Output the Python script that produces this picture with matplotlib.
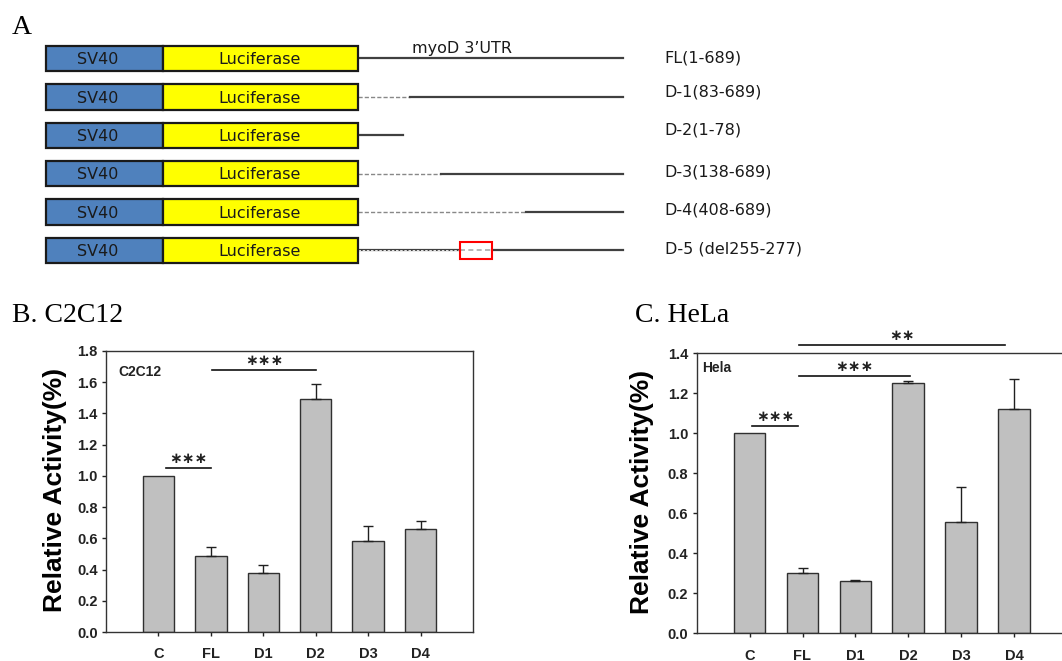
import numpy as np
import matplotlib.pyplot as plt
from matplotlib.patches import Rectangle

plt.rcParams['font.family'] = ['Liberation Sans', 'DejaVu Sans']

# ---- panel A: reporter constructs ----
construct_labels = ['FL(1-689)', 'D-1(83-689)', 'D-2(1-78)', 'D-3(138-689)',
                    'D-4(408-689)', 'D-5 (del255-277)']
# drawn 3'UTR extent in diagram units (0-689) (not to scale)
utr_solid_start = [0, 135, 0, 216, 437, 0]
utr_solid_end = [689, 689, 117, 689, 689, 689]
utr_len = 689
del_drawn = (265, 348)   # boxed deletion of D-5 as drawn

# ---- panels B / C ----
groups = ['C', 'FL', 'D1', 'D2', 'D3', 'D4']
c2c12_mean = [1.00, 0.49, 0.38, 1.49, 0.58, 0.66]
c2c12_err = [0.0, 0.057, 0.047, 0.096, 0.097, 0.053]
hela_mean = [1.00, 0.30, 0.26, 1.25, 0.555, 1.12]
hela_err = [0.0, 0.025, 0.006, 0.012, 0.175, 0.152]

# significance brackets: (from, to, height, stars)
c2c12_sig = [(0.14, 1.0, 1.049, 3), (1.02, 3.01, 1.678, 3)]
hela_sig = [(0.04, 0.92, 1.037, 3), (0.93, 3.03, 1.287, 3),
            (0.93, 4.83, 1.44, 2)]

W, H = 1062, 661
fig = plt.figure(figsize=(W / 100, H / 100), dpi=100)

# diagram axes: UTR spans px 358..623
k = 265 / utr_len
axA = fig.add_axes([0, 371 / H, 1, 290 / H])
axA.set_xlim(-358 / k, (W - 358) / k)
axA.set_ylim(6.029, -1.523)
axA.axis('off')

sv40_x = (-811, -507)
luc_x = (-507, 0)
bh = 0.664
line_c = '#404040'
label_dy = [0, -0.13, -0.15, -0.05, -0.05, -0.05]
for i, lab in enumerate(construct_labels):
    axA.add_patch(Rectangle((sv40_x[0], i - bh / 2), sv40_x[1] - sv40_x[0], bh,
                            facecolor='#4f81bd', edgecolor='#1a1a1a', lw=1.6, zorder=3))
    axA.add_patch(Rectangle((luc_x[0], i - bh / 2), luc_x[1] - luc_x[0], bh,
                            facecolor='#ffff00', edgecolor='#1a1a1a', lw=1.6, zorder=3))
    axA.text(-678, i + 0.03, 'SV40', ha='center', va='center', fontsize=11.5,
             family='DejaVu Sans', color='#1a1a1a', zorder=4)
    axA.text(-255, i + 0.03, 'Luciferase', ha='center', va='center', fontsize=11.5,
             family='DejaVu Sans', color='#1a1a1a', zorder=4)
    axA.text(797, i + label_dy[i], lab, ha='left', va='center', fontsize=11.5,
             family='DejaVu Sans', color='#1a1a1a')
    if i == 5:
        axA.plot([0, del_drawn[0]], [i, i], color=line_c, lw=1.6)
        axA.plot([0, del_drawn[0]], [i, i], color='white', lw=0.6, ls=(0, (3, 2)))
        axA.plot([del_drawn[0], del_drawn[1]], [i, i], color='#aaaaaa', lw=1.2,
                 ls=(0, (3, 2)))
        axA.plot([del_drawn[1], utr_len], [i, i], color=line_c, lw=1.6)
        axA.add_patch(Rectangle((del_drawn[0], i - 0.22), del_drawn[1] - del_drawn[0],
                                0.44, fill=False, edgecolor='red', lw=1.5, zorder=4))
        continue
    if utr_solid_start[i] > 0:
        axA.plot([0, utr_solid_start[i]], [i, i], color='#888888', lw=1.0,
                 ls=(0, (3, 1.5)))
    axA.plot([utr_solid_start[i], utr_solid_end[i]], [i, i], color=line_c, lw=1.6)

axA.text(140, -0.25, 'myoD 3\u2019UTR', ha='left', va='center', fontsize=11.5,
         family='DejaVu Sans', color='#1a1a1a')

serif = ['Liberation Serif', 'DejaVu Serif']
fig.text(12 / W, 1 - 34.5 / H, 'A', family=serif, fontsize=20, va='baseline')
fig.text(12 / W, 1 - 322 / H, 'B. C2C12', family=serif, fontsize=20, va='baseline')
fig.text(635 / W, 1 - 322 / H, 'C. HeLa', family=serif, fontsize=20, va='baseline')


def bar_panel(ax, means, errs, ymax, tag, tag_xy, sig, ylab_x):
    x = np.arange(len(groups))
    ax.bar(x, means, width=0.6, color='#c0c0c0', edgecolor='#303030', lw=1, zorder=2)
    errs = np.asarray(errs)
    m = errs > 0
    ax.errorbar(x[m], np.asarray(means)[m], yerr=[np.zeros(m.sum()), errs[m]],
                fmt='none', ecolor='#202020', elinewidth=1, capsize=3.5,
                capthick=1, zorder=3)
    ax.set_xlim(-1, 6)
    ax.set_ylim(0, ymax)
    ticks = np.arange(0, ymax + 0.01, 0.2)
    ax.set_yticks(ticks)
    ax.set_yticklabels([f'{v:.1f}' for v in ticks])
    ax.set_xticks(x)
    ax.set_xticklabels(groups)
    ax.tick_params(axis='y', direction='out', length=3, width=1, pad=3,
                   labelsize=10.5, colors='#222222')
    ax.tick_params(axis='x', direction='out', length=3, width=1, pad=8,
                   labelsize=10.5, colors='#222222')
    for t in ax.get_xticklabels() + ax.get_yticklabels():
        t.set_fontweight('bold')
    for s in ax.spines.values():
        s.set_color('#333333')
        s.set_linewidth(1)
    ax.text(tag_xy[0], tag_xy[1], tag, transform=ax.transAxes, ha='left',
            va='center', fontsize=10, fontweight='bold', color='#222222')
    ax.text(ylab_x, 0.505, 'Relative Activity(%)', transform=ax.transAxes,
            rotation=90, ha='center', va='center', fontsize=19, fontweight='bold')
    for x0, x1, y, n in sig:
        ax.plot([x0, x1], [y, y], color='#111111', lw=1.2, clip_on=False)
        ax.annotate('\u2217' * n, xy=((x0 + x1) / 2, y), xytext=(0, 7),
                    textcoords='offset points', ha='center', va='center',
                    fontsize=11, family='DejaVu Sans', fontweight='bold',
                    color='#222222', annotation_clip=False)


axB = fig.add_axes([106 / W, 29 / H, 367 / W, 281 / H])
bar_panel(axB, c2c12_mean, c2c12_err, 1.8, 'C2C12', (0.033, 0.925), c2c12_sig, -0.139)

axC = fig.add_axes([696.7 / W, 27.7 / H, 370.3 / W, 280 / H])
bar_panel(axC, hela_mean, hela_err, 1.4, 'Hela', (0.0135, 0.9486), hela_sig, -0.1485)

fig.savefig('out.png', dpi=100)
